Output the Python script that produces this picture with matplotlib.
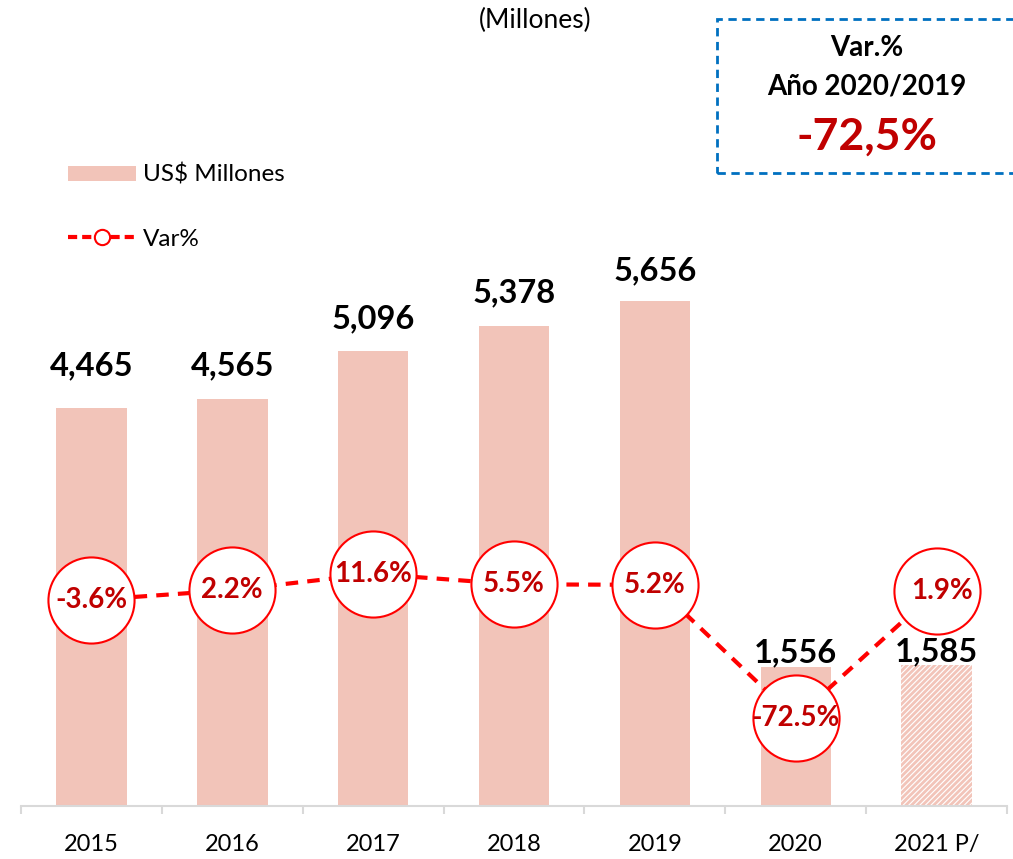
import matplotlib.pyplot as plt
from matplotlib.lines import Line2D
from matplotlib.patches import Patch, Rectangle
import numpy as np

# Exportaciones anuales (US$ millones) y variación porcentual
years = ["2015", "2016", "2017", "2018", "2019", "2020", "2021 P/"]
valores = [4465, 4565, 5096, 5378, 5656, 1556, 1585]
var_pct = [-3.6, 2.2, 11.6, 5.5, 5.2, -72.5, 1.9]
var_labels = ["-3.6%", "2.2%", "11.6%", "5.5%", "5.2%", "-72.5%", "1.9%"]

BAR_COLOR = "#F2C4B9"
LINE_RED = "#FF0000"
DARK_RED = "#C00000"

plt.rcParams["font.family"] = ["Lato", "DejaVu Sans"]
plt.rcParams["hatch.linewidth"] = 2.0

W, H = 1013, 859
fig = plt.figure(figsize=(W / 100, H / 100), dpi=100)

# eje en pixeles: base en y=806, tope en y=250
left, right, bottom, top = 21, 1007, 806, 250
ax = fig.add_axes([left / W, 1 - bottom / H, (right - left) / W, (bottom - top) / H])
ax2 = ax.twinx()

x = np.arange(len(years))
ax.set_xlim(-0.5, len(years) - 0.5)
ax.set_ylim(0, (bottom - top) / 0.0892)
# escala secundaria: 0% en y=593.8 px, 1.72 px por punto
ax2.set_ylim(-(bottom - 593.8) / 1.72, (593.8 - top) / 1.72)

ax.bar(x[:-1], valores[:-1], width=0.5, color=BAR_COLOR, linewidth=0)
ax.bar(x[-1], valores[-1], width=0.5, facecolor="white", edgecolor=BAR_COLOR,
       hatch="//////", linewidth=0)

# etiquetas de valor sobre las barras
label_offsets = [42, 33, 33, 33, 31, 14, 13]
for xi, v, off in zip(x, valores, label_offsets):
    ax.annotate(f"{v:,}", (xi, v), xytext=(0, off), textcoords="offset pixels",
                ha="center", va="center", fontsize=23.5, fontweight="bold", color="black")

ax2.plot(x, var_pct, color=LINE_RED, linewidth=3, dashes=(3, 2.2),
         marker="o", markersize=62, markerfacecolor="white",
         markeredgecolor=LINE_RED, markeredgewidth=1.5, zorder=3)
label_shift = [0, 0, 0, 0, 0, 0, 5]
for xi, v, lab, dx in zip(x, var_pct, var_labels, label_shift):
    ax2.annotate(lab, (xi, v), xytext=(dx, 0), textcoords="offset pixels",
                 ha="center", va="center", fontsize=20, fontweight="bold",
                 color=DARK_RED, zorder=4)

for a in (ax, ax2):
    for s in ("top", "right", "left"):
        a.spines[s].set_visible(False)
ax2.spines["bottom"].set_visible(False)
ax2.set_yticks([])
ax.set_yticks([])
ax.spines["bottom"].set_color("#D9D9D9")
ax.spines["bottom"].set_linewidth(1.5)

ax.set_xticks(x)
ax.set_xticklabels(years, fontsize=17)
ax.tick_params(axis="x", which="major", length=0, pad=20)
ax.set_xticks(np.arange(-0.5, len(years), 1.0), minor=True)
ax.tick_params(axis="x", which="minor", length=6, width=1.5, color="#D9D9D9")

fig.text(535 / W, 1 - 20 / H, "(Millones)", ha="center", va="center", fontsize=19)

# leyenda
handles = [
    Patch(facecolor=BAR_COLOR, edgecolor="none"),
    Line2D([], [], color=LINE_RED, linewidth=3, dashes=(2.2, 1.2), marker="o",
           markersize=11, markerfacecolor="white", markeredgecolor=LINE_RED,
           markeredgewidth=1.5),
]
fig.legend(handles, ["US$ Millones", "Var%"], loc="upper left",
           bbox_to_anchor=(68 / W, 1 - 164 / H), frameon=False, fontsize=17.5,
           handlelength=2.8, handleheight=0.6, handletextpad=0.3, labelspacing=1.75,
           borderpad=0, borderaxespad=0)

# recuadro con la variación 2020/2019
box = Rectangle((717 / W, 1 - 173 / H), (W + 20 - 717) / W, (173 - 19) / H,
                transform=fig.transFigure, fill=False, edgecolor="#0070C0",
                linewidth=2, linestyle=(0, (3, 2)), clip_on=False)
fig.add_artist(box)
fig.text(867 / W, 1 - 48 / H, "Var.%", ha="center", va="center",
         fontsize=20, fontweight="bold")
fig.text(867 / W, 1 - 86 / H, "Año 2020/2019", ha="center", va="center",
         fontsize=20, fontweight="bold")
fig.text(867 / W, 1 - 137 / H, "-72,5%", ha="center", va="center",
         fontsize=32, fontweight="bold", color=DARK_RED)

fig.savefig("out.png", dpi=100)
